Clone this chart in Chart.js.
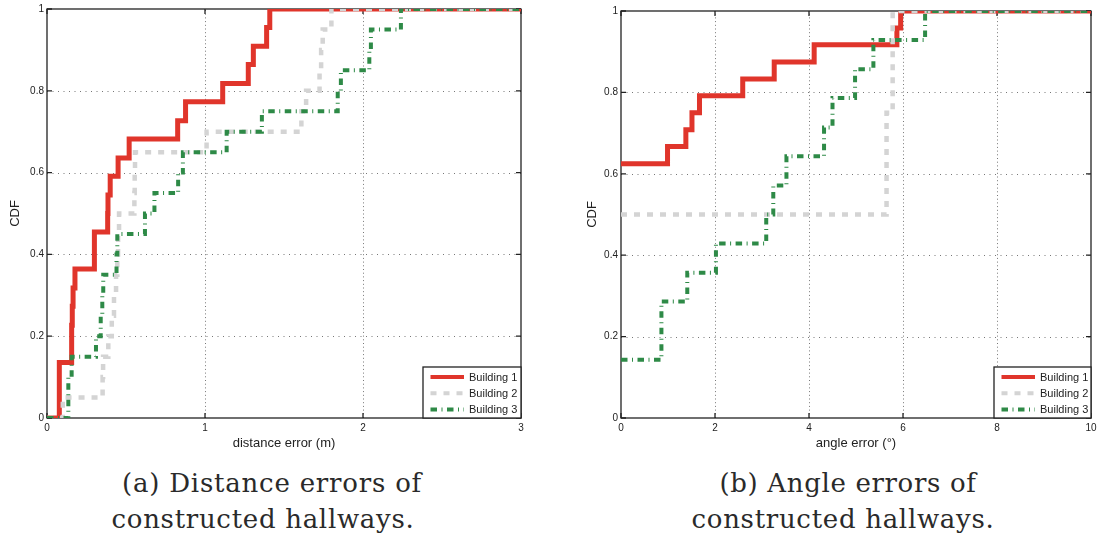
<!DOCTYPE html>
<html><head><meta charset="utf-8">
<script src="https://cdn.jsdelivr.net/npm/chart.js@4.4.1/dist/chart.umd.min.js"></script>
<style>
html,body{margin:0;padding:0;background:#fff;width:1101px;height:541px;overflow:hidden;position:relative;}
.wrap{position:absolute;top:0;height:460px;}
#w1{left:0;width:550px;} #w2{left:550px;width:551px;}
.cap{position:absolute;font-family:'DejaVu Serif',serif;font-size:26px;color:#2a2a2a;white-space:nowrap;line-height:26px;}
</style></head><body>
<div class="wrap" id="w1"><canvas id="c1"></canvas></div>
<div class="wrap" id="w2"><canvas id="c2"></canvas></div>
<div class="cap" id="t1a" data-c="272" data-w="300" style="top:470px">(a) Distance errors of</div>
<div class="cap" id="t1b" data-c="263" data-w="303" style="top:506px">constructed hallways.</div>
<div class="cap" id="t2a" data-c="848" data-w="257" style="top:470px">(b) Angle errors of</div>
<div class="cap" id="t2b" data-c="843" data-w="303" style="top:506px">constructed hallways.</div>
<script>
// ---- data: (a) distance errors (m) ----
const distTicksX = [0, 1, 2, 3];
const distB1X = [0, 0.078, 0.156, 0.160, 0.165, 0.177, 0.300, 0.384, 0.386, 0.400, 0.450, 0.520, 0.827, 0.877, 1.112, 1.274, 1.306, 1.390, 1.410, 3];
const distB1Y = [0, 0.136, 0.227, 0.273, 0.318, 0.364, 0.455, 0.500, 0.545, 0.591, 0.636, 0.682, 0.727, 0.773, 0.818, 0.864, 0.909, 0.955, 1.0, 1.0];
const distB2X = [0, 0.100, 0.352, 0.355, 0.388, 0.410, 0.424, 0.437, 0.445, 0.450, 0.456, 0.553, 0.555, 0.557, 1.010, 1.610, 1.640, 1.725, 1.735, 1.745, 1.800, 3];
const distB2Y = [0, 0.05, 0.10, 0.15, 0.20, 0.25, 0.30, 0.35, 0.40, 0.45, 0.50, 0.55, 0.60, 0.65, 0.70, 0.75, 0.80, 0.85, 0.90, 0.95, 1.0, 1.0];
const distB3X = [0, 0.135, 0.156, 0.310, 0.340, 0.350, 0.356, 0.440, 0.445, 0.620, 0.680, 0.830, 0.860, 1.137, 1.360, 1.840, 1.860, 2.040, 2.050, 2.240, 3];
const distB3Y = [0, 0.10, 0.15, 0.20, 0.25, 0.30, 0.35, 0.40, 0.45, 0.50, 0.55, 0.60, 0.65, 0.70, 0.75, 0.80, 0.85, 0.90, 0.95, 1.0, 1.0];
// ---- data: (b) angle errors (deg) ----
const angTicksX = [0, 2, 4, 6, 8, 10];
const angB1X = [0, 0.99, 1.38, 1.51, 1.67, 2.59, 3.26, 4.11, 5.87, 5.95, 10];
const angB1Y = [0.625, 0.667, 0.708, 0.750, 0.792, 0.833, 0.875, 0.917, 0.958, 1.0, 1.0];
const angB2X = [0, 5.65, 5.78, 10];
const angB2Y = [0.5, 0.75, 1.0, 1.0];
const angB3X = [0, 0.86, 1.41, 2.02, 3.09, 3.24, 3.52, 4.32, 4.50, 4.98, 5.37, 6.47, 10];
const angB3Y = [0.143, 0.286, 0.357, 0.429, 0.500, 0.571, 0.643, 0.714, 0.786, 0.857, 0.929, 1.0, 1.0];
const ticksY = [0, 0.2, 0.4, 0.6, 0.8, 1];
const seriesNames = ['Building 1', 'Building 2', 'Building 3'];

const FAM = '"Liberation Sans", Arial, sans-serif';
const TXT = '#222';
const zip = (xs, ys) => xs.map((x, i) => ({x: x, y: ys[i]}));
const fmt = v => String(Number(Number(v).toFixed(2)));

const styles = [
  {borderColor: '#e0352b', borderWidth: 5, borderDash: [], order: 3},
  {borderColor: '#d4d4d4', borderWidth: 4.5, borderDash: [6, 7], order: 2},
  {borderColor: '#2e8a47', borderWidth: 4, borderDash: [6.5, 4.5, 1, 4.5], order: 1}
];

const boxPlugin = {
  id: 'matlabBox',
  beforeDatasetsDraw(chart) {
    const ctx = chart.ctx, a = chart.chartArea, xs = chart.scales.x, ys = chart.scales.y;
    ctx.save();
    ctx.lineWidth = 1; ctx.strokeStyle = '#777';
    ctx.setLineDash([1, 2.7]);
    xs.ticks.forEach(t => {
      if (t.value <= xs.min || t.value >= xs.max) return;
      const p = Math.round(xs.getPixelForValue(t.value)) + 0.5;
      ctx.beginPath(); ctx.moveTo(p, a.bottom); ctx.lineTo(p, a.top); ctx.stroke();
    });
    ctx.setLineDash([1, 4.5]);
    ys.ticks.forEach(t => {
      if (t.value <= ys.min || t.value >= ys.max) return;
      const p = Math.round(ys.getPixelForValue(t.value)) + 0.5;
      ctx.beginPath(); ctx.moveTo(a.left, p); ctx.lineTo(a.right, p); ctx.stroke();
    });
    ctx.setLineDash([]);
    ctx.strokeStyle = '#222'; ctx.lineWidth = 1.3;
    ctx.strokeRect(a.left, a.top, a.right - a.left, a.bottom - a.top);
    ctx.beginPath();
    xs.ticks.forEach(t => {
      const p = xs.getPixelForValue(t.value);
      ctx.moveTo(p, a.bottom); ctx.lineTo(p, a.bottom - 5);
      ctx.moveTo(p, a.top); ctx.lineTo(p, a.top + 5);
    });
    ys.ticks.forEach(t => {
      const p = ys.getPixelForValue(t.value);
      ctx.moveTo(a.left, p); ctx.lineTo(a.left + 5, p);
      ctx.moveTo(a.right, p); ctx.lineTo(a.right - 5, p);
    });
    ctx.stroke();
    ctx.restore();
  }
};

const legendPlugin = {
  id: 'boxLegend',
  afterDatasetsDraw(chart, args, opts) {
    const ctx = chart.ctx, a = chart.chartArea;
    const w = opts.width || 98, h = 51;
    const x0 = a.right - w, y0 = a.bottom - h;
    ctx.save();
    ctx.fillStyle = '#fff'; ctx.fillRect(x0, y0, w, h);
    ctx.strokeStyle = '#222'; ctx.lineWidth = 1.3; ctx.strokeRect(x0, y0, w, h);
    chart.data.datasets.forEach((ds, i) => {
      const cy = y0 + 10 + i * 16.2;
      ctx.beginPath();
      ctx.setLineDash(ds.borderDash || []);
      ctx.lineWidth = Math.min(ds.borderWidth, 4);
      ctx.strokeStyle = ds.borderColor;
      ctx.moveTo(x0 + 7.5, cy); ctx.lineTo(x0 + 41, cy); ctx.stroke();
      ctx.setLineDash([]);
      ctx.fillStyle = TXT; ctx.font = '11px ' + FAM; ctx.textBaseline = 'middle'; ctx.textAlign = 'left';
      ctx.fillText(ds.label, x0 + 46, cy + 0.5);
    });
    ctx.restore();
  }
};

function makeChart(id, series, ticksX, xTitle, pad, yW, legendW) {
  const datasets = series.map((s, i) => Object.assign({
    label: seriesNames[i], data: zip(s[0], s[1]), stepped: true, pointRadius: 0,
    borderCapStyle: 'butt', borderJoinStyle: 'miter', fill: false
  }, styles[i]));
  return new Chart(document.getElementById(id), {
    type: 'line',
    data: {datasets: datasets},
    plugins: [boxPlugin, legendPlugin],
    options: {
      responsive: true, maintainAspectRatio: false, animation: false, events: [],
      layout: {padding: pad},
      plugins: {legend: {display: false}, tooltip: {enabled: false}, boxLegend: {width: legendW}},
      scales: {
        x: {
          type: 'linear', min: ticksX[0], max: ticksX[ticksX.length - 1],
          afterBuildTicks: s => { s.ticks = ticksX.map(v => ({value: v})); },
          ticks: {color: TXT, font: {size: 10, family: FAM}, padding: 4, maxRotation: 0, autoSkip: false, callback: fmt},
          grid: {display: false, drawTicks: false}, border: {display: false},
          title: {display: true, text: xTitle, color: TXT, font: {size: 13, family: FAM}, padding: 0},
          afterFit: s => { s.height = 32.8; }
        },
        y: {
          type: 'linear', min: 0, max: 1,
          afterBuildTicks: s => { s.ticks = ticksY.map(v => ({value: v})); },
          ticks: {color: TXT, font: {size: 10, family: FAM}, padding: 3, autoSkip: false, callback: fmt},
          grid: {display: false, drawTicks: false}, border: {display: false},
          title: {display: true, text: 'CDF', color: TXT, font: {size: 13, family: FAM}, padding: 0},
          afterFit: s => { s.width = yW; }
        }
      }
    }
  });
}

makeChart('c1', [[distB1X, distB1Y], [distB2X, distB2Y], [distB3X, distB3Y]], distTicksX, 'distance error (m)',
  {left: 7.2, top: 8, right: 29, bottom: 9.2}, 39.8, 98);
makeChart('c2', [[angB1X, angB1Y], [angB2X, angB2Y], [angB3X, angB3Y]], angTicksX, 'angle error (\u00B0)',
  {left: 34.2, top: 11, right: 10, bottom: 9.2}, 36.8, 97);

document.querySelectorAll('.cap').forEach(el => {
  const target = +el.dataset.w, c = +el.dataset.c;
  const w0 = el.getBoundingClientRect().width;
  const n = el.textContent.length;
  el.style.letterSpacing = ((target - w0) / n) + 'px';
  const w1 = el.getBoundingClientRect().width;
  el.style.left = (c - w1 / 2) + 'px';
});
</script>
</body></html>
